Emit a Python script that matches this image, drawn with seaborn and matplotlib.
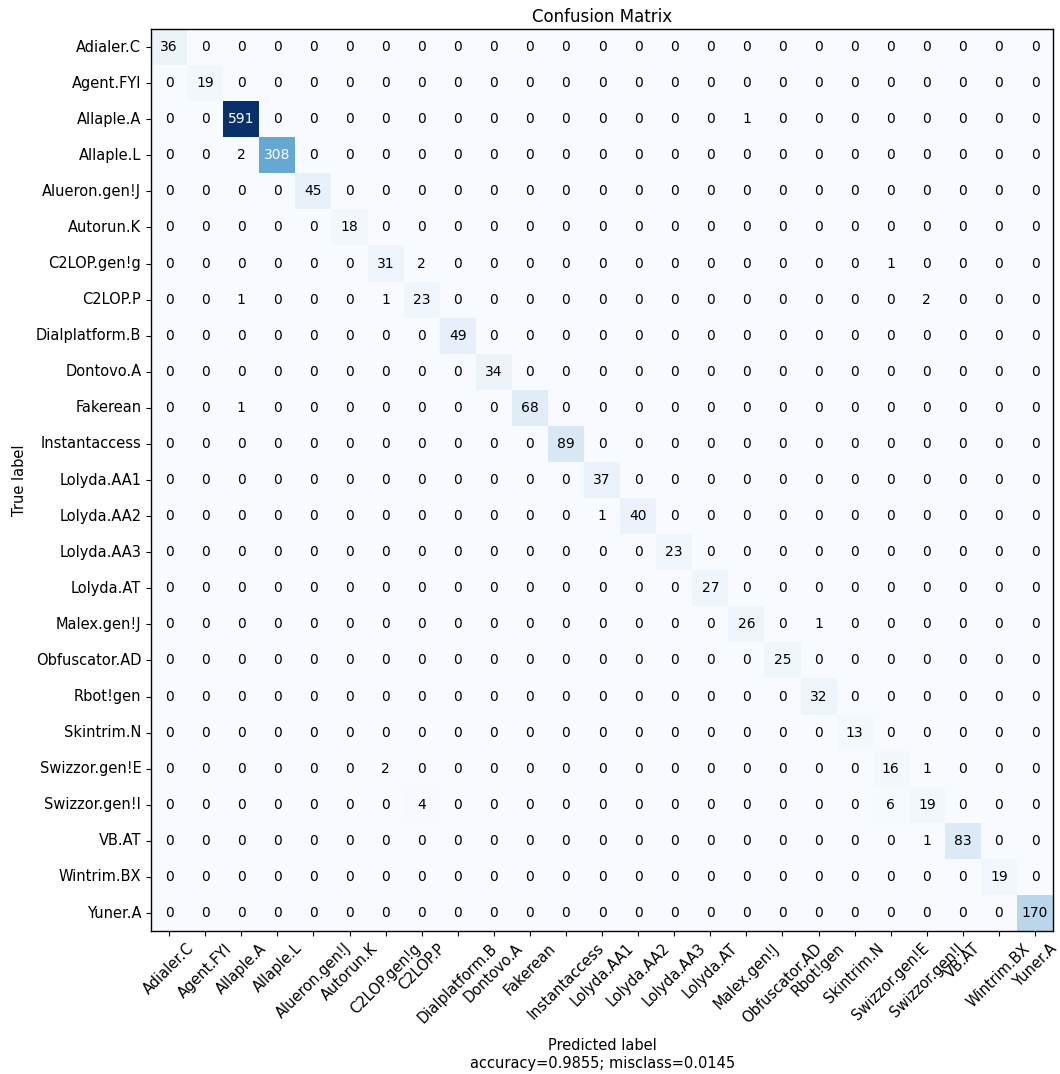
import numpy as np
import pandas as pd
import matplotlib
matplotlib.use("Agg")
import matplotlib.pyplot as plt
import seaborn as sns

# --- Data ---
CLASSES = [
    "Adialer.C", "Agent.FYI", "Allaple.A", "Allaple.L", "Alueron.gen!J",
    "Autorun.K", "C2LOP.gen!g", "C2LOP.P", "Dialplatform.B", "Dontovo.A",
    "Fakerean", "Instantaccess", "Lolyda.AA1", "Lolyda.AA2", "Lolyda.AA3",
    "Lolyda.AT", "Malex.gen!J", "Obfuscator.AD", "Rbot!gen", "Skintrim.N",
    "Swizzor.gen!E", "Swizzor.gen!I", "VB.AT", "Wintrim.BX", "Yuner.A",
]
DIAGONAL = [36, 19, 591, 308, 45, 18, 31, 23, 49, 34, 68, 89, 37, 40, 23,
            27, 26, 25, 32, 13, 16, 19, 83, 19, 170]
# off-diagonal errors: (true index, predicted index, count)
ERRORS = [
    (2, 16, 1),
    (3, 2, 2),
    (6, 7, 2), (6, 20, 1),
    (7, 2, 1), (7, 6, 1), (7, 21, 2),
    (10, 2, 1),
    (13, 12, 1),
    (16, 18, 1),
    (20, 6, 2), (20, 21, 1),
    (21, 7, 4), (21, 20, 6),
    (22, 21, 1),
]
ACCURACY = 0.9855
MISCLASS = 0.0145

n = len(CLASSES)
cm = np.zeros((n, n), dtype=int)
cm[np.arange(n), np.arange(n)] = DIAGONAL
for r, c, v in ERRORS:
    cm[r, c] = v
df = pd.DataFrame(cm, index=CLASSES, columns=CLASSES)

fig = plt.figure(figsize=(10.6, 10.74), dpi=100)
ax = fig.add_axes([0.1425, 0.1331, 0.851, 0.8399])

sns.heatmap(df, ax=ax, cmap="Blues", vmin=0, vmax=cm.max(), cbar=False,
            annot=True, fmt=",d", annot_kws={"size": 10}, square=False)

# white text on the dark cells, like the classic confusion-matrix helper
thresh = cm.max() / 2
for txt in ax.texts:
    val = int(txt.get_text().replace(",", ""))
    txt.set_color("white" if val > thresh else "black")

for s in ax.spines.values():
    s.set_visible(True)
    s.set_color("black")
    s.set_linewidth(1.0)

ax.tick_params(axis="both", length=3.5, width=0.8, labelsize=10.5)
ax.set_xticklabels(CLASSES, rotation=45, ha="center")
ax.set_yticklabels(CLASSES, rotation=0)
ax.set_title("Confusion Matrix", fontsize=12, pad=5)
ax.set_ylabel("True label", fontsize=10.5, labelpad=6)
ax.set_xlabel("Predicted label\naccuracy={:0.4f}; misclass={:0.4f}".format(ACCURACY, MISCLASS),
              fontsize=10.5, labelpad=9)

fig.savefig("out.png", dpi=100)
